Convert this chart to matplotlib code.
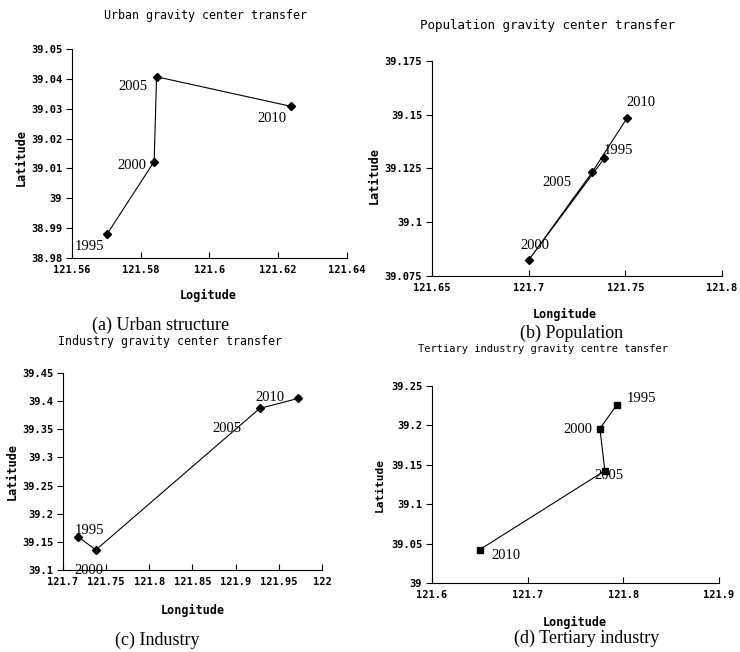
import matplotlib
matplotlib.use('Agg')
import matplotlib.pyplot as plt
from matplotlib.ticker import FuncFormatter

# data
years = ['1995', '2000', '2005', '2010']

urban_lon = [121.5702, 121.5839, 121.5846, 121.6237]
urban_lat = [38.9880, 39.0123, 39.0407, 39.0308]

pop_lon = [121.7391, 121.7000, 121.7328, 121.7509]
pop_lat = [39.1297, 39.0824, 39.1232, 39.1485]

ind_lon = [121.7178, 121.7380, 121.9279, 121.9725]
ind_lat = [39.1587, 39.1356, 39.3871, 39.4049]

ter_lon = [121.7929, 121.7755, 121.7807, 121.6497]
ter_lat = [39.2255, 39.1960, 39.1425, 39.0422]

urban_xticks = [121.56, 121.58, 121.60, 121.62, 121.64]
urban_yticks = [38.98, 38.99, 39.00, 39.01, 39.02, 39.03, 39.04, 39.05]
pop_xticks = [121.65, 121.70, 121.75, 121.80]
pop_yticks = [39.075, 39.100, 39.125, 39.150, 39.175]
ind_xticks = [121.70, 121.75, 121.80, 121.85, 121.90, 121.95, 122.00]
ind_yticks = [39.10, 39.15, 39.20, 39.25, 39.30, 39.35, 39.40, 39.45]
ter_xticks = [121.6, 121.7, 121.8, 121.9]
ter_yticks = [39.00, 39.05, 39.10, 39.15, 39.20, 39.25]

W, H = 740, 652
MONO = 'DejaVu Sans Mono'
SERIF = 'Liberation Serif'

fig = plt.figure(figsize=(W / 100, H / 100), dpi=100)
fig.patch.set_facecolor('white')


def px_rect(left, top, right, bottom):
    return [left / W, 1 - bottom / H, (right - left) / W, (bottom - top) / H]


def fig_text(x, y, s, **kw):
    fig.text(x / W, 1 - y / H, s, ha='center', va='center', **kw)


def fmt(v, pos):
    return ('%.3f' % v).rstrip('0').rstrip('.')


def panel(rect, lon, lat, xticks, yticks, marker, msize, offsets):
    ax = fig.add_axes(rect)
    ax.plot(lon, lat, color='black', lw=0.8, marker=marker, ms=msize,
            mfc='black', mec='black')
    for yr, x, y, off in zip(years, lon, lat, offsets):
        ax.annotate(yr, (x, y), xytext=off, textcoords='offset pixels',
                    ha='center', va='center', family=SERIF, fontsize=10.5)
    ax.set_xticks(xticks)
    ax.set_yticks(yticks)
    ax.set_xlim(xticks[0], xticks[-1])
    ax.set_ylim(yticks[0], yticks[-1])
    ax.xaxis.set_major_formatter(FuncFormatter(fmt))
    ax.yaxis.set_major_formatter(FuncFormatter(fmt))
    for s in ['top', 'right']:
        ax.spines[s].set_visible(False)
    for s in ['left', 'bottom']:
        ax.spines[s].set_linewidth(0.8)
    ax.tick_params(axis='x', direction='in', length=4, width=0.8, pad=5)
    ax.tick_params(axis='y', direction='out', length=4, width=0.8, pad=3)
    for lab in ax.get_xticklabels() + ax.get_yticklabels():
        lab.set_family(MONO)
        lab.set_fontsize(7.5)
        lab.set_fontweight('bold')
    ax.set_facecolor('white')
    return ax


# (a) urban structure
panel(px_rect(72, 49, 347, 258), urban_lon, urban_lat, urban_xticks, urban_yticks,
      'D', 4.5, [(-18, -12), (-22, -4), (-24, -10), (-19, -12)])
fig_text(205, 15, 'Urban gravity center transfer', family=MONO, fontsize=8.4)
fig_text(21, 158, 'Latitude', family=MONO, fontsize=8.5, fontweight='bold', rotation=90)
fig_text(208, 295, 'Logitude', family=MONO, fontsize=8.5, fontweight='bold')
fig_text(161, 325, '(a) Urban structure', family=SERIF, fontsize=13)

# (b) population
panel(px_rect(432, 61, 722, 276), pop_lon, pop_lat, pop_xticks, pop_yticks,
      'D', 4.5, [(14, 8), (6, 15), (-35, -10), (14, 15)])
fig_text(547, 25, 'Population gravity center transfer', family=MONO, fontsize=9)
fig_text(374, 175, 'Latitude', family=MONO, fontsize=8.5, fontweight='bold', rotation=90)
fig_text(565, 314, 'Longitude', family=MONO, fontsize=8.5, fontweight='bold')
fig_text(572, 333, '(b) Population', family=SERIF, fontsize=13)

# (c) industry
panel(px_rect(63, 373, 322, 570), ind_lon, ind_lat, ind_xticks, ind_yticks,
      'D', 4.5, [(11, 6), (-7, -21), (-33, -20), (-28, 1)])
fig_text(170, 342, 'Industry gravity center transfer', family=MONO, fontsize=8.4)
fig_text(12, 472, 'Latitude', family=MONO, fontsize=8.5, fontweight='bold', rotation=90)
fig_text(193, 610, 'Longitude', family=MONO, fontsize=8.5, fontweight='bold')
fig_text(157, 640, '(c) Industry', family=SERIF, fontsize=13)

# (d) tertiary industry
panel(px_rect(432, 386, 719, 583), ter_lon, ter_lat, ter_xticks, ter_yticks,
      's', 4, [(25, 7), (-22, -1), (4, -5), (26, -6)])
fig_text(543, 349, 'Tertiary industry gravity centre tansfer', family=MONO, fontsize=7.5)
fig_text(380, 485, 'Latitude', family=MONO, fontsize=8, fontweight='bold', rotation=90)
fig_text(575, 622, 'Longitude', family=MONO, fontsize=8.5, fontweight='bold')
fig_text(587, 638, '(d) Tertiary industry', family=SERIF, fontsize=13)

fig.savefig('out.png', dpi=100, facecolor='white')
